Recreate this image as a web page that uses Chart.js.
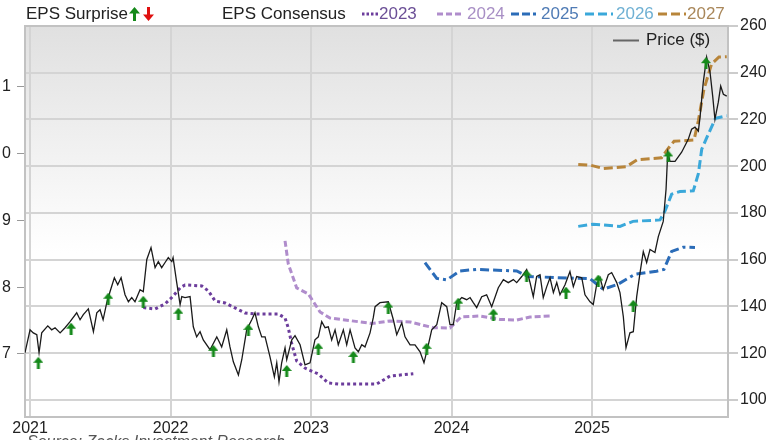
<!DOCTYPE html>
<html><head><meta charset="utf-8">
<script src="https://cdn.jsdelivr.net/npm/chart.js@4.4.1/dist/chart.umd.min.js"></script>
<style>
html,body{margin:0;padding:0;background:#fff;}
#wrap{position:relative;width:775px;height:440px;overflow:hidden;font-family:'Liberation Sans',Arial,sans-serif;}
#c{position:absolute;left:0;top:0;}
.lg{position:absolute;top:4px;font-size:17px;line-height:20px;white-space:nowrap;color:#222;}
.sw{position:absolute;}
#src{position:absolute;left:27px;top:433px;font-size:16px;font-style:italic;color:#555;white-space:nowrap;}
</style></head>
<body>
<div id="wrap">
<canvas id="c" width="775" height="440"></canvas>
<span class="lg" style="left:26px">EPS Surprise</span>
<svg class="sw" style="left:129px;top:7px" width="11" height="14"><path d="M5.5 0 L11 6.5 L7 6.5 L7 14 L4 14 L4 6.5 L0 6.5 Z" fill="#15891a"/></svg>
<svg class="sw" style="left:143px;top:7px" width="11" height="14"><path d="M5.5 14 L11 7.5 L7 7.5 L7 0 L4 0 L4 7.5 L0 7.5 Z" fill="#e01010"/></svg>
<span class="lg" style="left:222px">EPS Consensus</span>
<svg class="sw" style="left:362px;top:12px" width="17" height="4"><line x1="0" y1="2" x2="17" y2="2" stroke="#6c3d9c" stroke-width="3" stroke-dasharray="2.5,2"/></svg>
<span class="lg" style="left:379px;color:#6b4f96">2023</span>
<svg class="sw" style="left:437px;top:12px" width="25" height="4"><line x1="0" y1="2" x2="25" y2="2" stroke="#b08dcc" stroke-width="3" stroke-dasharray="6,3"/></svg>
<span class="lg" style="left:467px;color:#a88fc5">2024</span>
<svg class="sw" style="left:511px;top:12px" width="28" height="4"><line x1="0" y1="2" x2="28" y2="2" stroke="#2b6cb8" stroke-width="3" stroke-dasharray="8,3,8,3,3,3"/></svg>
<span class="lg" style="left:541px;color:#4f7bb5">2025</span>
<svg class="sw" style="left:585px;top:12px" width="28" height="4"><line x1="0" y1="2" x2="28" y2="2" stroke="#3aa8da" stroke-width="3" stroke-dasharray="9,4"/></svg>
<span class="lg" style="left:616px;color:#6fb0d3">2026</span>
<svg class="sw" style="left:658px;top:12px" width="28" height="4"><line x1="0" y1="2" x2="28" y2="2" stroke="#b8853a" stroke-width="3" stroke-dasharray="9,4"/></svg>
<span class="lg" style="left:687px;color:#a9875a">2027</span>
<svg class="sw" style="left:613px;top:39px" width="26" height="3"><line x1="0" y1="1.5" x2="26" y2="1.5" stroke="#666" stroke-width="2"/></svg>
<span class="lg" style="left:646px;top:30px">Price ($)</span>
<div id="src">Source: Zacks Investment Research</div>
</div>
<script>
// ---- tick labels ----
const yearTicks = [2021, 2022, 2023, 2024, 2025];
const yearLabels = ["2021", "2022", "2023", "2024", "2025"];
const priceTicks = [100, 120, 140, 160, 180, 200, 220, 240, 260];
const epsTicks = [7, 8, 9, 10, 11];
const epsTickLabels = ["7", "8", "9", "0", "1"];

// ---- price (decimal year, $) ----
const priceDates = [2020.964,2021.000,2021.023,2021.048,2021.064,2021.083,2021.126,2021.154,2021.178,2021.214,2021.249,2021.285,2021.332,2021.356,2021.379,2021.415,2021.451,2021.475,2021.498,2021.520,2021.546,2021.569,2021.600,2021.624,2021.648,2021.676,2021.700,2021.724,2021.747,2021.783,2021.806,2021.831,2021.861,2021.890,2021.913,2021.937,2021.961,2021.984,2022.009,2022.018,2022.044,2022.068,2022.080,2022.103,2022.139,2022.162,2022.186,2022.210,2022.233,2022.281,2022.329,2022.364,2022.400,2022.423,2022.447,2022.483,2022.507,2022.542,2022.578,2022.601,2022.625,2022.649,2022.673,2022.708,2022.739,2022.756,2022.772,2022.791,2022.815,2022.827,2022.863,2022.886,2022.922,2022.957,2022.993,2023.028,2023.052,2023.076,2023.100,2023.123,2023.147,2023.171,2023.194,2023.230,2023.254,2023.278,2023.313,2023.337,2023.361,2023.384,2023.420,2023.443,2023.456,2023.491,2023.550,2023.586,2023.610,2023.646,2023.669,2023.705,2023.740,2023.776,2023.804,2023.835,2023.859,2023.895,2023.930,2023.966,2023.989,2024.013,2024.037,2024.073,2024.108,2024.132,2024.155,2024.179,2024.215,2024.250,2024.286,2024.333,2024.369,2024.404,2024.440,2024.464,2024.500,2024.535,2024.559,2024.582,2024.606,2024.630,2024.653,2024.678,2024.701,2024.725,2024.749,2024.772,2024.808,2024.843,2024.867,2024.891,2024.927,2024.950,2024.986,2025.009,2025.033,2025.057,2025.080,2025.116,2025.140,2025.176,2025.199,2025.223,2025.242,2025.270,2025.294,2025.318,2025.342,2025.365,2025.389,2025.413,2025.448,2025.472,2025.507,2025.527,2025.539,2025.555,2025.591,2025.638,2025.685,2025.709,2025.733,2025.757,2025.769,2025.792,2025.816,2025.840,2025.859,2025.875,2025.899,2025.916,2025.935,2025.959];
const priceValues = [120.2,130.0,128.7,127.9,120.2,128.7,131.7,130.0,130.9,128.7,130.9,133.5,137.3,134.3,136.5,139.0,129.2,137.3,138.6,134.3,141.6,146.3,152.3,149.3,152.3,145.0,142.0,143.8,142.0,147.2,146.3,160.1,165.2,156.6,159.2,156.6,158.8,160.9,159.2,160.9,150.2,140.8,144.2,143.8,144.2,131.3,127.0,129.2,125.7,121.5,127.0,122.7,130.0,122.7,116.3,110.7,117.2,130.0,134.3,137.3,131.3,127.0,127.0,118.4,109.9,115.9,107.7,115.9,122.3,117.2,125.7,127.5,123.6,115.0,115.9,125.7,127.0,133.5,130.9,131.3,125.7,130.0,123.6,130.0,123.6,130.0,122.3,120.6,123.6,122.7,128.7,135.2,139.9,141.6,142.0,134.3,127.9,133.0,127.0,123.6,123.6,120.6,115.9,123.6,130.0,132.2,141.6,139.9,132.2,132.2,141.6,143.8,142.9,143.8,141.6,139.5,144.2,145.0,139.9,148.0,151.5,150.2,151.5,150.2,152.8,155.8,150.2,144.2,152.8,153.6,143.8,148.5,152.3,145.9,150.2,145.0,149.3,154.9,148.5,152.8,152.3,145.0,142.0,140.8,149.3,152.3,147.2,153.6,154.5,150.2,145.9,135.6,122.3,128.7,129.2,144.2,154.5,163.5,158.8,164.4,163.1,169.9,176.4,190.1,206.0,202.1,202.1,206.0,211.5,215.8,216.7,215.0,221.0,236.0,246.7,240.3,230.0,220.1,227.4,234.3,230.8,230.0];

// ---- EPS surprise markers (decimal year, plotted at price level) ----
const surpriseDates = [2021.059,2021.292,2021.557,2021.806,2022.056,2022.305,2022.554,2022.827,2023.052,2023.301,2023.550,2023.823,2024.048,2024.298,2024.535,2024.815,2025.045,2025.294,2025.543,2025.811];
const surpriseValues = [115.9,130.5,143.3,142.0,136.9,121.0,130.0,112.4,121.9,118.4,139.5,121.9,141.2,136.5,153.2,145.9,151.1,140.3,204.2,244.1];

// ---- EPS consensus by fiscal year ----
const eps2023Dates = [2021.806,2021.890,2021.961,2022.020,2022.068,2022.103,2022.222,2022.269,2022.317,2022.388,2022.459,2022.530,2022.601,2022.767,2022.815,2022.838,2022.863,2022.898,2022.957,2023.052,2023.123,2023.194,2023.468,2023.562,2023.728];
const eps2023Values = [7.694,7.674,7.749,7.869,7.989,8.034,8.019,7.944,7.794,7.764,7.689,7.614,7.599,7.599,7.539,7.390,7.150,6.895,6.790,6.700,6.566,6.551,6.551,6.670,6.705];
const eps2024Dates = [2022.815,2022.838,2022.898,2022.981,2023.064,2023.135,2023.242,2023.434,2023.562,2023.705,2023.870,2023.989,2024.068,2024.203,2024.345,2024.464,2024.559,2024.713];
const eps2024Values = [8.693,8.348,7.989,7.899,7.629,7.539,7.509,7.457,7.494,7.479,7.394,7.390,7.554,7.569,7.517,7.509,7.554,7.569];
const eps2025Dates = [2023.811,2023.895,2023.966,2024.060,2024.179,2024.464,2024.544,2024.749,2024.986,2025.080,2025.185,2025.306,2025.460,2025.512,2025.567,2025.650,2025.733];
const eps2025Values = [8.368,8.131,8.109,8.243,8.266,8.243,8.161,8.143,8.127,7.969,8.044,8.194,8.239,8.266,8.536,8.599,8.593];
const eps2026Dates = [2024.902,2025.007,2025.199,2025.292,2025.484,2025.520,2025.567,2025.626,2025.721,2025.757,2025.781,2025.826,2025.879,2025.959];
const eps2026Values = [8.910,8.943,8.910,8.985,9.007,9.142,9.393,9.432,9.442,9.697,10.064,10.281,10.528,10.566];
const eps2027Dates = [2024.902,2024.993,2025.080,2025.242,2025.324,2025.495,2025.548,2025.584,2025.726,2025.757,2025.797,2025.851,2025.904,2025.959];
const eps2027Values = [9.836,9.824,9.776,9.801,9.909,9.936,10.091,10.184,10.202,10.491,10.966,11.340,11.445,11.449];

function pts(xs, ys){ const n=Math.min(xs.length, ys.length); const o=[]; for(let i=0;i<n;i++) o.push({x:xs[i], y:ys[i]}); return o; }

function arrowImg(color){
  const c=document.createElement('canvas'); c.width=10; c.height=12;
  const g=c.getContext('2d'); g.fillStyle=color;
  g.beginPath(); g.moveTo(5,0); g.lineTo(10,6); g.lineTo(0,6); g.closePath(); g.fill();
  g.fillRect(3.5,5.5,3,6.5);
  return c;
}
const upArrow = arrowImg('#15891a');

const FONT = {family:"'Liberation Sans', Arial, sans-serif", size:16};

const bgPlugin = {
  id:'bgframe',
  beforeDraw(chart){
    const {ctx, chartArea:a} = chart;
    const g = ctx.createLinearGradient(0, a.top, 0, a.bottom);
    g.addColorStop(0, '#e0e0e0'); g.addColorStop(0.58, '#ffffff'); g.addColorStop(1, '#ffffff');
    ctx.save(); ctx.fillStyle = g; ctx.fillRect(a.left, a.top, a.right-a.left, a.bottom-a.top); ctx.restore();
  },
  beforeDatasetsDraw(chart){
    const {ctx, chartArea:a} = chart;
    ctx.save(); ctx.strokeStyle = '#c2c2c2'; ctx.lineWidth = 2;
    ctx.strokeRect(a.left, a.top, a.right-a.left, a.bottom-a.top); ctx.restore();
  }
};

function epsLine(label, xs, ys, color, dash){
  return {label, data:pts(xs, ys), yAxisID:'yEps', borderColor:color, borderWidth:3, borderDash:dash, pointRadius:0, showLine:true, fill:false, tension:0};
}

new Chart(document.getElementById('c'), {
  type:'scatter',
  data:{datasets:[
    {label:'EPS Surprise', data:pts(surpriseDates, surpriseValues), yAxisID:'yPrice', pointStyle:upArrow, pointRadius:6, showLine:false},
    {label:'Price ($)', data:pts(priceDates, priceValues), yAxisID:'yPrice', borderColor:'#1a1a1a', borderWidth:1.3, pointRadius:0, showLine:true, tension:0},
    epsLine('2027', eps2027Dates, eps2027Values, '#b8853a', [9,4]),
    epsLine('2026', eps2026Dates, eps2026Values, '#3aa8da', [9,4]),
    epsLine('2025', eps2025Dates, eps2025Values, '#2b6cb8', [9,4,9,4,3,4]),
    epsLine('2024', eps2024Dates, eps2024Values, '#b08dcc', [6,3]),
    epsLine('2023', eps2023Dates, eps2023Values, '#6c3d9c', [3,3])
  ]},
  options:{
    responsive:false, animation:false, devicePixelRatio:1,
    layout:{padding:{top:26, left:0, right:0, bottom:0}},
    plugins:{legend:{display:false}, tooltip:{enabled:false}},
    scales:{
      x:{type:'linear', min:2020.964, max:2025.968,
        afterBuildTicks:s=>{ s.ticks = yearTicks.map(v=>({value:v})); },
        afterFit:s=>{ s.height = 23; },
        ticks:{callback:v=>yearLabels[yearTicks.indexOf(v)], font:FONT, color:'#222', padding:2, maxRotation:0, autoSkip:false},
        grid:{color:'#d4d4d4', lineWidth:2, drawTicks:false}, border:{display:false}},
      yPrice:{type:'linear', position:'right', min:92.7, max:260,
        afterBuildTicks:s=>{ s.ticks = priceTicks.map(v=>({value:v})); },
        afterFit:s=>{ s.width = 47; },
        ticks:{font:FONT, color:'#222', padding:2, autoSkip:false},
        grid:{color:'#d4d4d4', lineWidth:2, tickColor:'#999', tickLength:10, tickWidth:1}, border:{display:false}},
      yEps:{type:'linear', position:'left', min:6.057, max:11.909,
        afterBuildTicks:s=>{ s.ticks = epsTicks.map(v=>({value:v})); },
        afterFit:s=>{ s.width = 25; },
        ticks:{callback:v=>epsTickLabels[epsTicks.indexOf(v)], font:FONT, color:'#222', padding:6, autoSkip:false},
        grid:{drawOnChartArea:false, tickColor:'#999', tickLength:8, tickWidth:1}, border:{display:false}}
    }
  },
  plugins:[bgPlugin]
});
</script>
</body></html>
